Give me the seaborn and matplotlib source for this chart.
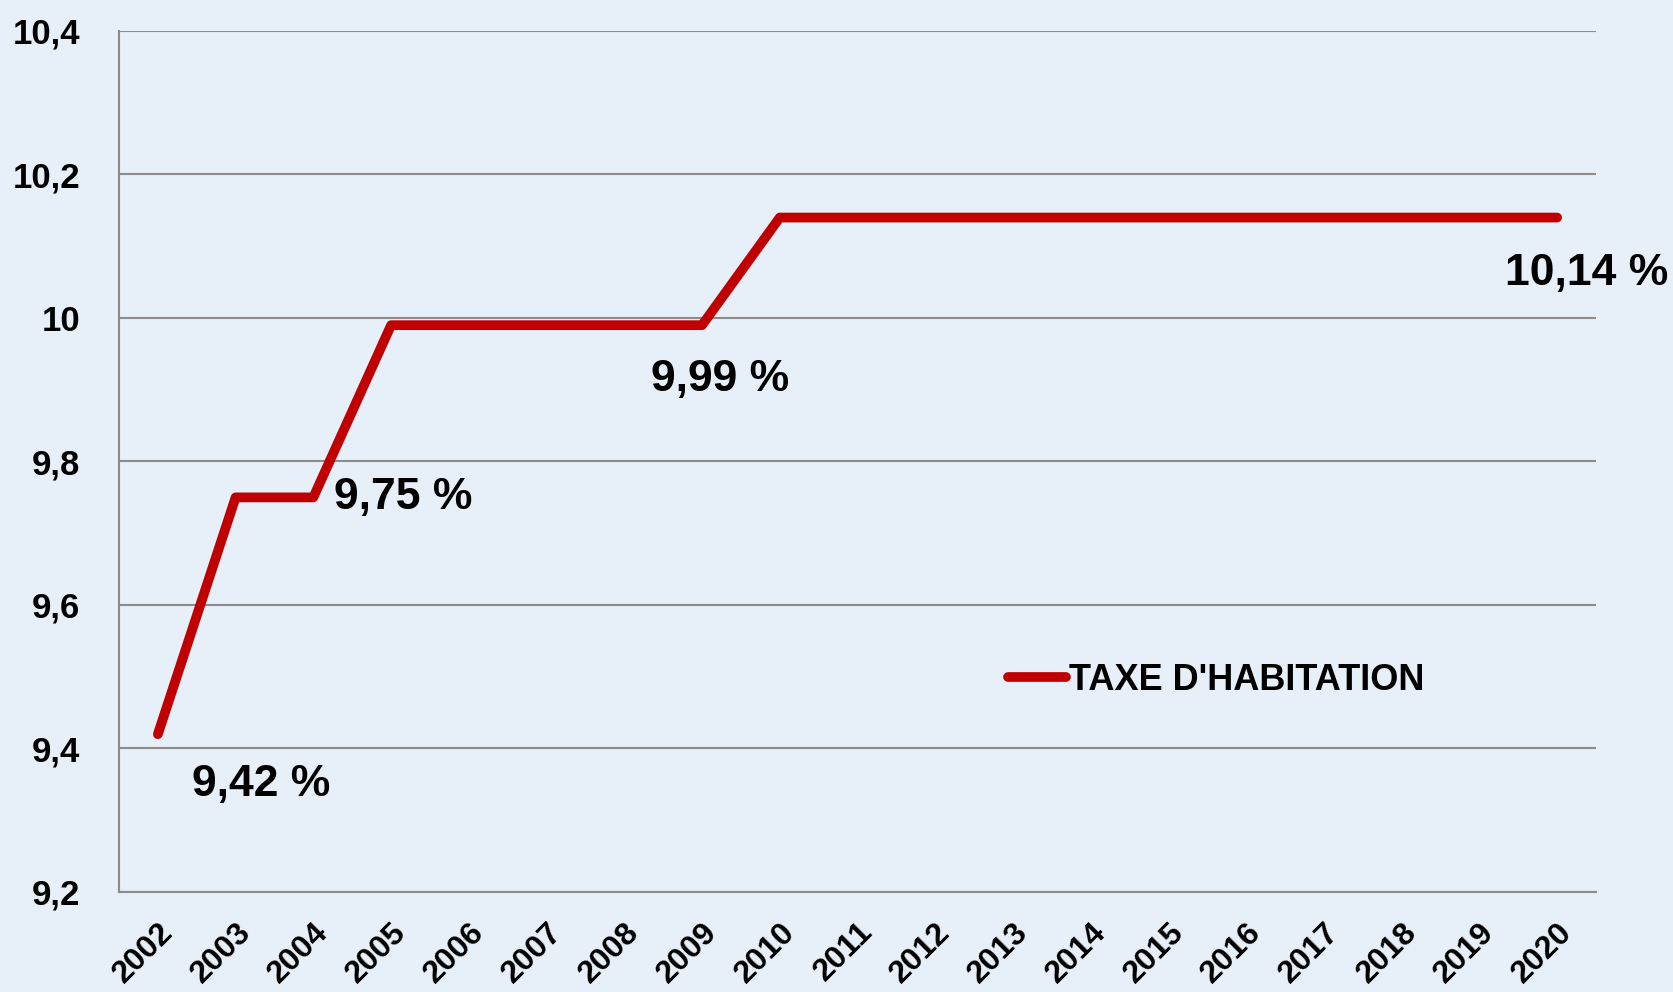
import seaborn as sns
import pandas as pd
import matplotlib.pyplot as plt
from matplotlib.ticker import MultipleLocator, FuncFormatter

years = [str(y) for y in range(2002, 2021)]
taux = [9.42, 9.75, 9.75, 9.99, 9.99, 9.99, 9.99, 9.99, 10.14, 10.14,
        10.14, 10.14, 10.14, 10.14, 10.14, 10.14, 10.14, 10.14, 10.14]
label_years = ['2002', '2004', '2009', '2020']
label_texts = ['9,42 %', '9,75 %', '9,99 %', '10,14 %']
label_offsets = [(103, -50), (90, 0), (18, -54), (29, -56)]

bg = '#E7EFF8'
red = '#C00000'
grid = '#8C8C8C'

sns.set_style('white')
plt.rcParams['font.family'] = ['Liberation Sans', 'DejaVu Sans']
plt.rcParams['font.weight'] = 'bold'
plt.rcParams['text.color'] = 'black'
plt.rcParams['xtick.labelcolor'] = 'black'
plt.rcParams['ytick.labelcolor'] = 'black'

df = pd.DataFrame({'year': years, 'taux': taux, 'serie': "TAXE D'HABITATION"})

fig = plt.figure(figsize=(16.73, 9.92), dpi=100, facecolor=bg)
ax = fig.add_axes([119 / 1673, 1 - 892 / 992, (1596 - 119) / 1673, (892 - 31) / 992])
ax.set_facecolor(bg)

sns.lineplot(data=df, x='year', y='taux', hue='serie', palette=[red],
             linewidth=7, solid_capstyle='round', ax=ax, legend=True)

ax.set_xlim(-0.5, len(years) - 0.5)
ax.set_ylim(9.2, 10.4)
ax.yaxis.set_major_locator(MultipleLocator(0.2))
ax.yaxis.set_major_formatter(FuncFormatter(lambda v, p: f'{v:.1f}'.rstrip('0').rstrip('.').replace('.', ',')))
ax.grid(axis='y', color=grid, linewidth=1.5)
ax.set_axisbelow(True)

for s in ['top', 'right']:
    ax.spines[s].set_visible(False)
for s in ['left', 'bottom']:
    ax.spines[s].set_color(grid)
    ax.spines[s].set_linewidth(1.5)

ax.set_xticks(range(len(years)))
ax.set_xticklabels(years, rotation=45, ha='right', va='top', rotation_mode='anchor')
ax.set_xticks([i - 0.5 for i in range(len(years) + 1)], minor=True)
ax.tick_params(axis='x', which='major', length=0, pad=18, labelsize=23)
ax.tick_params(axis='x', which='minor', length=9, width=1.5, color=grid, direction='out')
ax.tick_params(axis='y', length=9, width=1.5, color=grid, direction='out', pad=19, labelsize=25)
for t in ax.get_xticklabels() + ax.get_yticklabels():
    t.set_fontweight('bold')
    t.set_color('black')

ax.set_xlabel('')
ax.set_ylabel('')

for yr, txt, off in zip(label_years, label_texts, label_offsets):
    i = years.index(yr)
    ax.annotate(txt, (i, taux[i]), xytext=off, textcoords='offset pixels',
                ha='center', va='center', fontsize=32, fontweight='bold', color='black')

leg = ax.legend(loc='center left', bbox_to_anchor=(1008 / 1673, 1 - 680 / 992),
                bbox_transform=fig.transFigure, frameon=False, fontsize=26,
                handlelength=1.6, handletextpad=0.1, borderpad=0, borderaxespad=0)
for t in leg.get_texts():
    t.set_fontweight('bold')
    t.set_color('black')

fig.savefig('out.png', dpi=100, facecolor=bg)
